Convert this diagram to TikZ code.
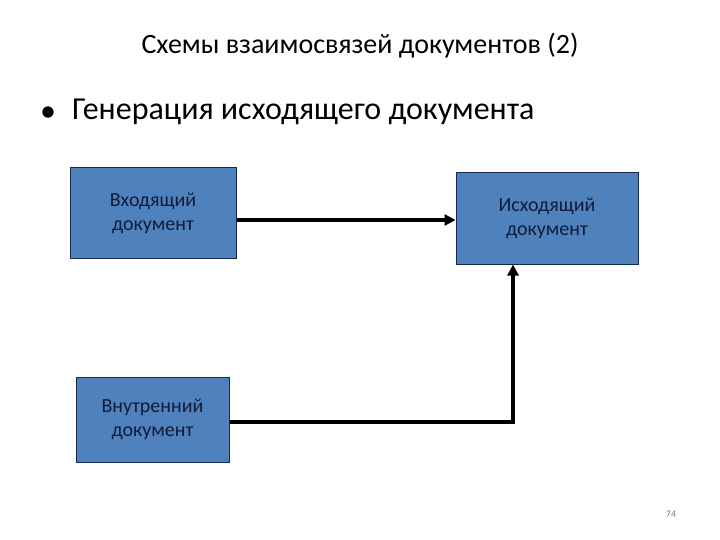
\documentclass[tikz,border=0pt]{standalone}
\usepackage{fontspec}
\setmainfont{Carlito}
\usetikzlibrary{arrows.meta}
\definecolor{boxfill}{RGB}{79,129,189}
\definecolor{boxedge}{RGB}{22,40,80}
\definecolor{boxtext}{RGB}{18,28,58}
\begin{document}
\begin{tikzpicture}[x=1pt, y=-1pt,
    docbox/.style={draw=boxedge, line width=1pt, fill=boxfill, rectangle, inner sep=0pt,
      align=center, text=boxtext, font=\fontsize{20}{24}\selectfont},
    conn/.style={line width=3.5pt, -{Triangle[length=11pt, width=11pt]}}]
    \useasboundingbox[fill=white] (0,0) rectangle (720,540);

    % Title and bullet
    \node (title) at (360,46) {\fontsize{28}{32}\selectfont Схемы взаимосвязей документов (2)};
    \node (dot) at (48,114) {\fontsize{32}{38}\selectfont •};
    \node[anchor=west, inner sep=0pt] (bullet) at (72,112) {\fontsize{32}{38}\selectfont Генерация исходящего документа};

    % Incoming document
    \node[docbox, minimum width=166pt, minimum height=90pt] (incoming) at (153,213) {Входящий\\документ};

    % Outgoing document
    \node[docbox, minimum width=182pt, minimum height=91pt] (outgoing) at (547,218.5) {Исходящий\\документ};
    \draw[conn] ([yshift=-7pt]incoming.east) -- (outgoing.west |- 0,220);

    % Internal document
    \node[docbox, minimum width=153pt, minimum height=85pt] (internal) at (152.5,419.5) {Внутренний\\документ};
    \draw[conn] ([yshift=-2.5pt]internal.east) -| ([xshift=-34pt]outgoing.south);

    % Page number
    \node[text=gray, font=\fontsize{10}{12}\selectfont] (pagenum) at (671,514) {74};
\end{tikzpicture}
\end{document}
